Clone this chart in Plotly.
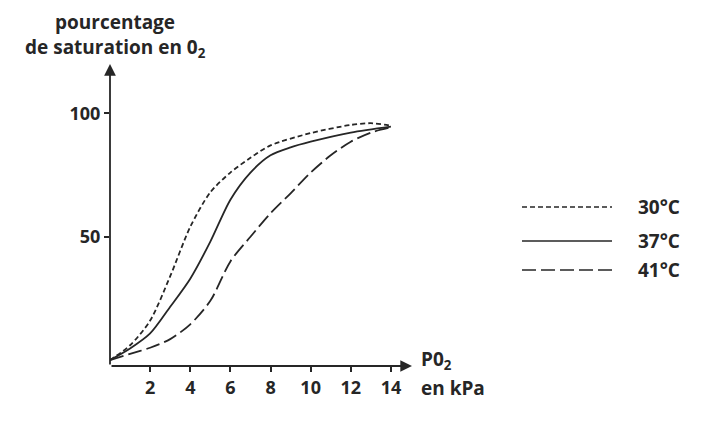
"""Courbes de saturation de l'hémoglobine en O2 selon la température."""

import plotly.graph_objects as go

# PO2 (kPa) and saturation (%)
po2_30 = [0, 1, 2, 3, 4, 5, 6, 7, 8, 10, 12, 13, 14]
sat_30 = [0, 6, 16, 34, 54, 68, 76, 82, 87, 92, 95.3, 96, 95]

po2_37 = [0, 1, 2, 3, 4, 5, 6, 7, 8, 9, 10, 12, 14]
sat_37 = [0, 4.7, 10.8, 21.6, 33, 48, 65, 76, 83, 86.2, 88.5, 92.2, 94.6]

po2_41 = [0, 1, 2, 3, 4, 5, 6, 7, 8, 9, 10, 11, 12, 13, 14]
sat_41 = [0, 2.5, 5, 8.5, 14.5, 24, 40, 50, 59.5, 67.6, 76, 83, 88.5, 92.2, 94.3]

x_ticks = [2, 4, 6, 8, 10, 12, 14]
y_ticks = [50, 100]

series = [
    ('30°C', po2_30, sat_30, '5px,3px'),
    ('37°C', po2_37, sat_37, 'solid'),
    ('41°C', po2_41, sat_41, '14px,5px'),
]

INK = '#262626'
FONT = 'Open Sans'

# page has an 8px body margin; positions below are in screen pixels
OFF = 8
L, T, W, H = 110 - OFF, 64 - OFF, 302, 302


def px(x):
    return (x - OFF - L) / W


def py(y):
    return (T + H - (y - OFF)) / H


fig = go.Figure()
for name, xs, ys, dash in series:
    fig.add_trace(go.Scatter(
        x=xs, y=ys, name=name, mode='lines',
        line=dict(color=INK, width=1.8, dash=dash, shape='spline', smoothing=0.8),
        showlegend=False,
    ))

x_end, y_low, y_top = 15.05, -2.4, 120

fig.update_layout(
    width=704, height=432,
    margin=dict(l=L, r=704 - L - W, t=T, b=432 - T - H),
    paper_bgcolor='white', plot_bgcolor='white',
    font=dict(family=FONT, color=INK, size=17),
    xaxis=dict(range=[0, x_end], tickvals=x_ticks, ticks='outside', ticklen=5,
               tickwidth=1.5, tickcolor=INK, showgrid=False, zeroline=False,
               showline=False, tickfont=dict(size=18, weight='bold')),
    yaxis=dict(range=[y_low, y_top], tickvals=y_ticks, ticks='outside', ticklen=5,
               tickwidth=1.5, tickcolor=INK, showgrid=False, zeroline=False,
               showline=False, tickfont=dict(size=18, weight='bold')),
)

# axes drawn as arrows
fig.add_annotation(x=x_end, y=y_low, ax=0, ay=y_low, xref='x', yref='y',
                   axref='x', ayref='y', showarrow=True, arrowhead=2,
                   arrowsize=1.3, arrowwidth=1.8, arrowcolor=INK, text='')
fig.add_annotation(x=0, y=y_top, ax=0, ay=y_low, xref='x', yref='y',
                   axref='x', ayref='y', showarrow=True, arrowhead=2,
                   arrowsize=1.3, arrowwidth=1.8, arrowcolor=INK, text='')

# axis titles, one annotation per line
titles = [
    ('<b>pourcentage</b>', 115, 22, 'center'),
    ('<b>de saturation en 0<sub>2</sub></b>', 115, 48, 'center'),
    ('<b>P0<sub>2</sub></b>', 419, 360, 'left'),
    ('<b>en kPa</b>', 419, 388, 'left'),
]
for text, tx, ty, anchor in titles:
    fig.add_annotation(text=text, xref='paper', yref='paper', x=px(tx), y=py(ty),
                       xanchor=anchor, yanchor='middle', showarrow=False,
                       font=dict(size=19))

# legend drawn by hand with long line samples
legend_y = [207, 241, 270]
for (name, _, _, dash), ly in zip(series, legend_y):
    fig.add_shape(type='line', xref='paper', yref='paper',
                  x0=px(522), x1=px(612), y0=py(ly), y1=py(ly),
                  line=dict(color=INK, width=1.6, dash=dash))
    fig.add_annotation(text=f'<b>{name}</b>', xref='paper', yref='paper',
                       x=px(636), y=py(ly), xanchor='left', yanchor='middle',
                       showarrow=False, font=dict(size=19))

fig.write_html('out.html')
